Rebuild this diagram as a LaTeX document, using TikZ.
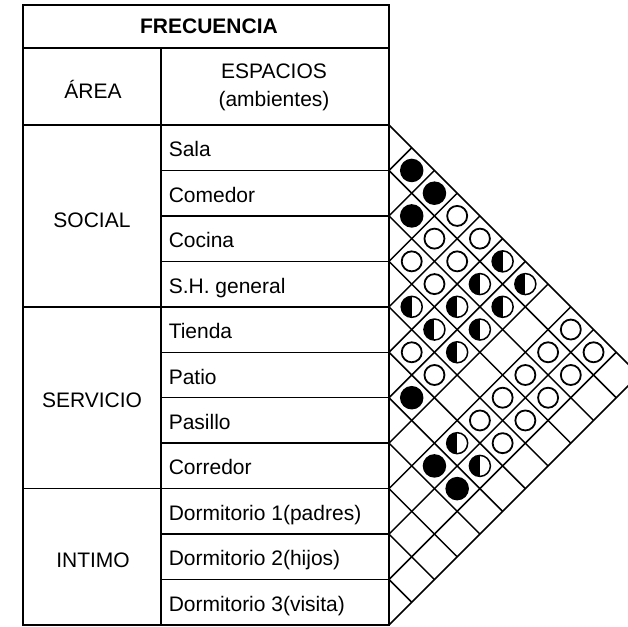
\documentclass[tikz,border=0pt]{standalone}
\usepackage{fontspec}
\setmainfont{Liberation Sans}
\usetikzlibrary{positioning}

\begin{document}
\begin{tikzpicture}[x=0.5pt,y=-0.5pt,line width=0.75pt,
    font=\fontsize{10.5}{14}\selectfont,
    lleno/.style={circle,draw,fill=black,minimum size=11pt,inner sep=0pt},
    vacio/.style={circle,draw,line width=0.9pt,minimum size=10pt,inner sep=0pt},
    medio/.style={circle,draw,minimum size=10.5pt,inner sep=0pt,
      path picture={\fill (path picture bounding box.south west) rectangle (path picture bounding box.north);}},
    espacio/.style={anchor=base west,inner sep=0pt}]
  \useasboundingbox (0,0) rectangle (628,627);
  % tabla
  \draw (23,5) rectangle (389,625);
  \draw (23,48) -- (389,48) (161,48) -- (161,625);
  \foreach \k in {0,4,8} \draw (23,125+45.4545*\k) -- (161,125+45.4545*\k);
  \foreach \k in {0,...,10} \draw (161,125+45.4545*\k) -- (389,125+45.4545*\k);
  \node[font=\fontsize{10.5}{14}\selectfont\bfseries] (frec) at (209,26) {FRECUENCIA};
  \node[anchor=base] (area) at (93,98) {ÁREA};
  \node[align=center] (esp) at (274,87) {ESPACIOS\\(ambientes)};
  \node[anchor=base] (social) at (92,227) {SOCIAL};
  \node[anchor=base] (servicio) at (92,407) {SERVICIO};
  \node[anchor=base] (intimo) at (93,567) {INTIMO};
  \foreach \nombre [count=\i from 0] in {Sala,Comedor,Cocina,S.H. general,Tienda,Patio,Pasillo,Corredor,
      Dormitorio 1(padres),Dormitorio 2(hijos),Dormitorio 3(visita)}
    \node[espacio] (e\i) at (168,{125+45.4545*(\i+0.5)+9}) {\nombre};
  % matriz de relaciones
  \foreach \k in {0,...,11} {
    \draw (389,125+45.4545*\k) -- ++({22.727*(11-\k)},{22.727*(11-\k)});
    \draw (389,125+45.4545*\k) -- ++({22.727*\k},{-22.727*\k});
  }
  \foreach \i/\j/\s in {0/1/lleno,0/2/lleno,1/2/lleno,0/3/vacio,1/3/vacio,0/4/vacio,
      2/3/vacio,1/4/vacio,0/5/medio,2/4/vacio,1/5/medio,0/6/medio,3/4/medio,2/5/medio,
      1/6/medio,3/5/medio,2/6/medio,0/8/vacio,4/5/vacio,3/6/medio,1/8/vacio,0/9/vacio,
      4/6/vacio,2/8/vacio,1/9/vacio,5/6/lleno,3/8/vacio,2/9/vacio,4/8/vacio,3/9/vacio,
      5/8/medio,4/9/vacio,6/8/lleno,5/9/medio,6/9/lleno}
    \node[\s] (c\i-\j) at ({389+22.727*(\j-\i)},{125+22.727*(\i+\j+1)}) {};
\end{tikzpicture}
\end{document}
